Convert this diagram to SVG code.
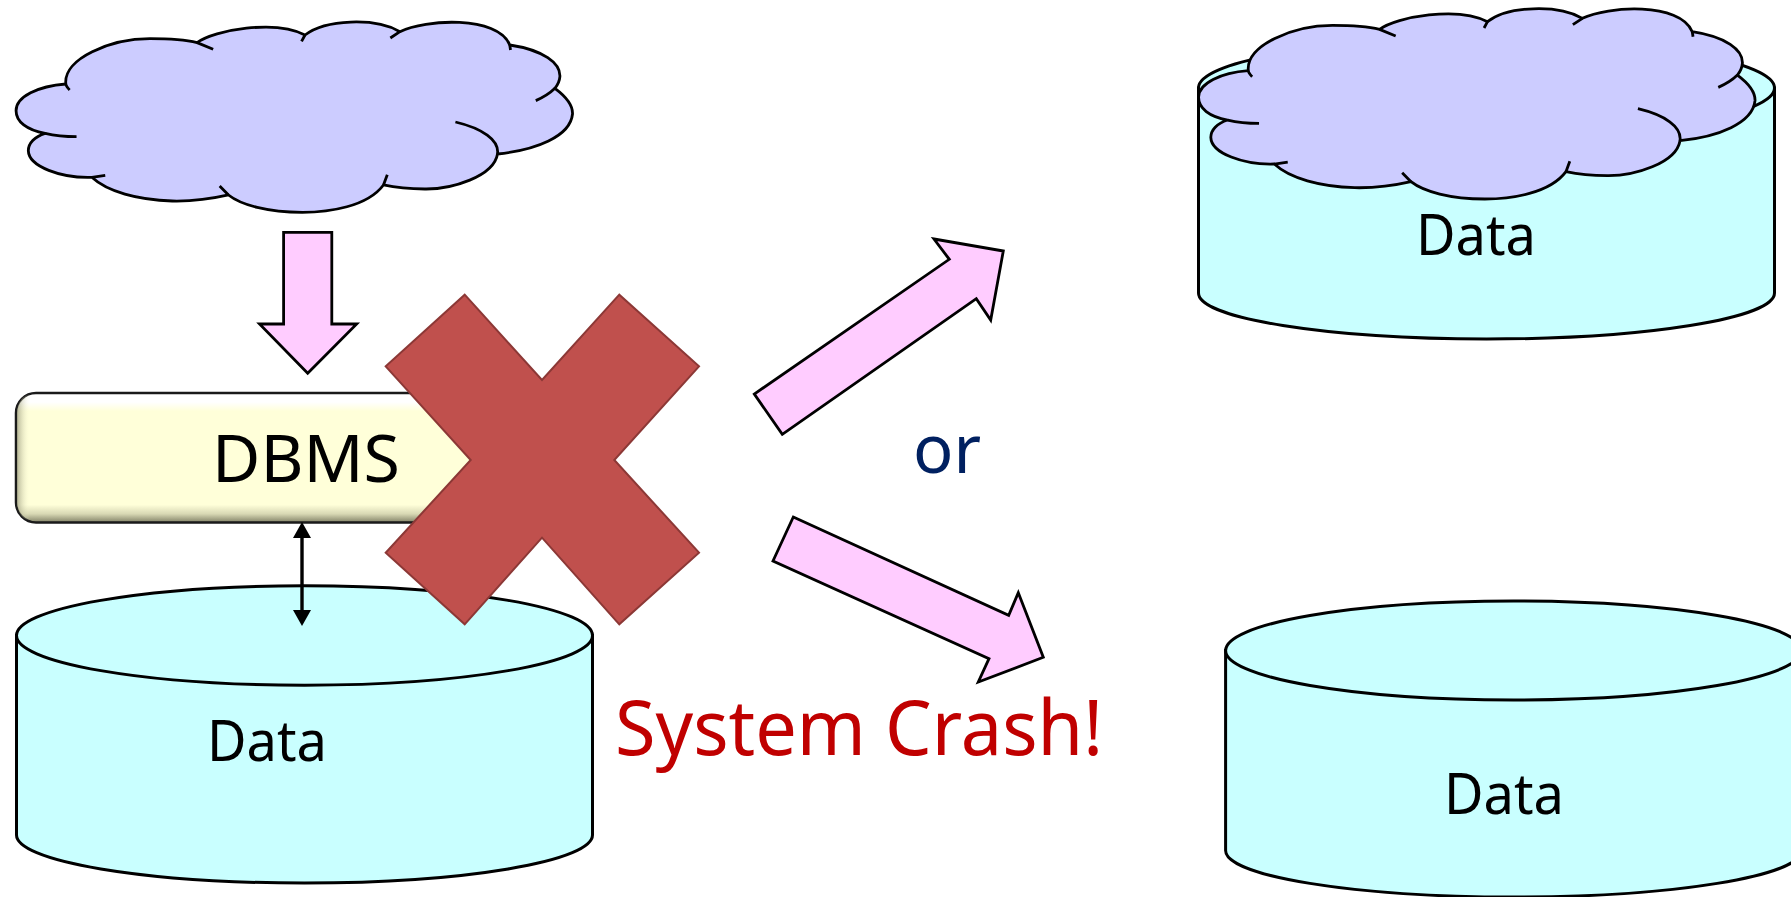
<svg xmlns="http://www.w3.org/2000/svg" xmlns:xlink="http://www.w3.org/1999/xlink" width="1791" height="897" viewBox="0 0 1791 897">
<style>
.cyl{fill:#c9ffff;stroke:#000;stroke-width:3}
.cloud{fill:#ccccff;stroke:#000;stroke-width:2.8;vector-effect:non-scaling-stroke;stroke-linejoin:round}
.tail{fill:none;stroke:#000;stroke-width:2.8;vector-effect:non-scaling-stroke}
.block{fill:#ffccff;stroke:#000;stroke-width:2.8;stroke-linejoin:miter}
.t{font-family:"Noto Sans","Open Sans",sans-serif;fill:#000}
</style>
<defs>
<g id="cloudShape">
<path class="cloud" d="M172 252C165 175 290 116 392 116C440 116 480 118 515 128C560 90 720 58 797 105C850 58 980 52 1045 95C1110 58 1300 45 1332 135C1420 150 1465 190 1463 230C1462 245 1455 258 1450 265C1485 295 1497 320 1496 342C1490 410 1400 450 1300 462C1290 530 1180 568 1110 567C1070 567 1030 562 1002 555C960 620 860 637 790 637C700 637 630 615 597 585C540 600 490 604 450 603C360 600 280 575 240 532C160 535 75 500 74 452C74 430 90 410 118 400C70 390 42 365 42 332C42 290 100 258 172 252Z"/>
<path class="tail" d="M172 252C172 258 178 265 182 270M515 128L557 148M797 105L788 124M1045 95L1020 114M1332 135L1334 150M1450 265C1435 282 1420 292 1400 302M1300 462C1305 420 1260 385 1190 366M1002 555L1012 524M597 585L574 558M240 532L275 526M118 400C140 406 170 410 200 410"/>
</g>
<linearGradient id="dbmsV" gradientUnits="userSpaceOnUse" x1="0" y1="393" x2="0" y2="523">
<stop offset="0" stop-color="#ffffff"/><stop offset="0.07" stop-color="#ffffff"/><stop offset="0.14" stop-color="#ffffd9"/><stop offset="0.86" stop-color="#ffffd9"/><stop offset="0.93" stop-color="#d8d8b4"/><stop offset="1" stop-color="#7c7c62"/>
</linearGradient>
<linearGradient id="dbmsH" gradientUnits="userSpaceOnUse" x1="15" y1="0" x2="30" y2="0">
<stop offset="0" stop-color="#7c7c62" stop-opacity=".75"/><stop offset="1" stop-color="#ffffd9" stop-opacity="0"/>
</linearGradient>
<marker id="head" viewBox="0 0 16 18" refX="8" refY="9" markerWidth="16" markerHeight="18" markerUnits="userSpaceOnUse" orient="auto-start-reverse">
<path d="M0 0L16 9L0 18Z" fill="#000"/>
</marker>
</defs>

<g id="cylinder-left">
<path class="cyl" d="M16.5 635.5V835A288 48 0 0 0 592.5 835V635.5Z"/>
<ellipse class="cyl" cx="304.5" cy="635.5" rx="288" ry="49.7"/>
<text class="t" x="207" y="761" font-size="57" textLength="120" lengthAdjust="spacingAndGlyphs">Data</text>
</g>
<g id="cylinder-top-right">
<path class="cyl" d="M1198.5 88V293A288 46 0 0 0 1774.5 293V88Z"/>
<ellipse class="cyl" cx="1486.5" cy="88" rx="288" ry="49"/>
<text class="t" x="1416" y="255" font-size="57" textLength="120" lengthAdjust="spacingAndGlyphs">Data</text>
</g>
<g id="cylinder-bottom-right">
<path class="cyl" d="M1225.6 650.5V850.5A288 46.5 0 0 0 1801.6 850.5V650.5Z"/>
<ellipse class="cyl" cx="1513.6" cy="650.5" rx="288" ry="49.5"/>
<text class="t" x="1444" y="814" font-size="57" textLength="120" lengthAdjust="spacingAndGlyphs">Data</text>
</g>
<g id="cloud-left"><use href="#cloudShape" transform="matrix(.3827 0 0 .3333 0 0)"/></g>
<g id="cloud-right"><use href="#cloudShape" transform="matrix(.3827 0 0 .3333 1182.5 -13.3)"/></g>
<g id="dbms">
<rect x="16" y="393" width="480" height="129.5" rx="20" fill="url(#dbmsV)" stroke="#1a1a1a" stroke-width="2.5"/>
<rect x="17" y="394" width="30" height="127" rx="19" fill="url(#dbmsH)"/>
<text class="t" x="212" y="482" font-size="66" textLength="188" lengthAdjust="spacingAndGlyphs">DBMS</text>
</g>
<g id="connectors">
<path class="block" d="M283.6 232.3H331.8V324H356.7L307.7 373.3L259.5 324H283.6Z"/>
<path class="block" d="M934 239L1003.3 251L990.7 320L976.3 298.7L782.3 434.3L754.3 394L949.3 259.3Z"/>
<path class="block" d="M793.3 517L1008.7 615.3L1018.3 592.7L1043.3 657.3L978.3 682L989 658.7L773 561Z"/>
<line x1="302" y1="530" x2="302" y2="618" stroke="#000" stroke-width="3.4" marker-start="url(#head)" marker-end="url(#head)"/>
</g>
<g id="cross">
<path d="M464.7 294.7L542 380L619.3 294.7L699 366.3L614.3 460L699 552.7L619.3 624.3L542 537.7L464.7 624.3L385.7 552.7L470.7 460L385.7 366.3Z" fill="#c0504d" stroke="#8c3836" stroke-width="2"/>
</g>
<g id="labels">
<text class="t" x="913" y="473" font-size="67" textLength="68" lengthAdjust="spacingAndGlyphs" style="fill:#002060">or</text>
<text class="t" x="615" y="755" font-size="76" textLength="488" lengthAdjust="spacingAndGlyphs" style="fill:#c00000">System Crash!</text>
</g>
</svg>
